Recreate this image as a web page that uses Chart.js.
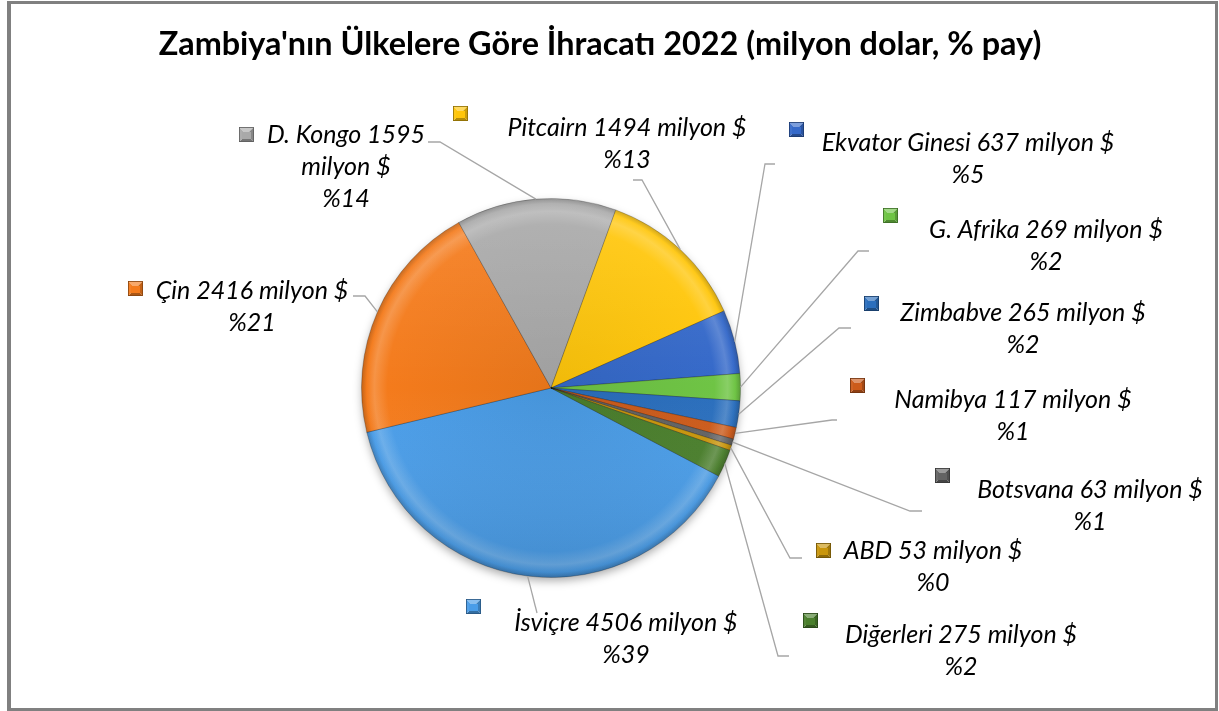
<!DOCTYPE html>
<html>
<head>
<meta charset="utf-8">
<script src="https://cdn.jsdelivr.net/npm/chart.js@4.4.0/dist/chart.umd.min.js"></script>
<style>
html,body{margin:0;padding:0;background:#fff;}
#wrap{position:relative;width:1219px;height:711px;overflow:hidden;}
canvas{position:absolute;left:0;top:0;}
#frame{position:absolute;left:7px;top:1px;width:1204px;height:704px;border:3px solid #808080;border-left-width:4px;pointer-events:none;}
</style>
</head>
<body>
<div id="wrap"><canvas id="c" width="1219" height="711"></canvas><div id="frame"></div></div>
<script>
// ---------- data ----------
const chartTitle = "Zambiya'nın Ülkelere Göre İhracatı 2022 (milyon dolar, % pay)";
const categories = ["İsviçre","Çin","D. Kongo","Pitcairn","Ekvator Ginesi","G. Afrika","Zimbabve","Namibya","Botsvana","ABD","Diğerleri"];
const exportValues = [4506,2416,1595,1494,637,269,265,117,63,53,275];
const unitText = "milyon $";

// ---------- styles ----------
const sliceColors = ["#4a9de8","#f47b1c","#a9a9a9","#ffc60a","#3569c9","#6fc445","#2b6fbd","#cc5b1b","#636363","#c9960c","#4a7f2c"];

// label layout (annotation positions, not data)
const labelLayout = [
  {cx:626, y:623, marker:[466,599], start:[537,613], elbow:[537,613]},
  {cx:252, y:291, marker:[128,281], start:[353,296], elbow:[365,296]},
  {cx:346, y:135, marker:[239,127], start:[428,142], elbow:[440,142], wrap:true},
  {cx:627, y:128, marker:[453,106], start:[633,180], elbow:[642,180]},
  {cx:968, y:143, marker:[789,122], start:[775,164], elbow:[765,164]},
  {cx:1046,y:230, marker:[883,208], start:[869,251], elbow:[858,251]},
  {cx:1023,y:313, marker:[864,296], start:[851,328], elbow:[839,328]},
  {cx:1013,y:400, marker:[850,378], start:[837,420], elbow:[832,420]},
  {cx:1090,y:490, marker:[935,468], start:[922,511], elbow:[910,511]},
  {cx:933, y:551, marker:[816,543], start:[802,558], elbow:[790,558]},
  {cx:961, y:635, marker:[803,613], start:[789,656], elbow:[778,656]}
];
const LINE_H = 32;

function hexToRgb(h){h=h.replace('#','');return [parseInt(h.substr(0,2),16),parseInt(h.substr(2,2),16),parseInt(h.substr(4,2),16)];}
function shade(hex,amt){
  const c=hexToRgb(hex);
  const t = amt>0?255:0, a=Math.abs(amt);
  return 'rgb('+c.map(v=>Math.round(v+(t-v)*a)).join(',')+')';
}

const total = exportValues.reduce((a,b)=>a+b,0);

const canvas = document.getElementById('c');
const mctx = canvas.getContext('2d');
function fitFont(style, text, target){
  mctx.font = style.replace('SIZE','100px');
  const w = mctx.measureText(text).width;
  return 100*target/w;
}
const labelFontSize = fitFont("italic 400 SIZE Lato", "Pitcairn 1494 milyon $", 239);
const titleFontSize = fitFont("bold SIZE Lato", chartTitle, 883);

const pieDeco = {
  id:'pieDeco',
  beforeDatasetsDraw(chart){
    const arc = chart.getDatasetMeta(0).data[0];
    if(!arc) return;
    const ctx = chart.ctx;
    ctx.save();
    ctx.shadowColor='rgba(0,0,0,0.35)';
    ctx.shadowBlur=10;
    ctx.shadowOffsetY=4;
    ctx.beginPath();
    ctx.arc(arc.x,arc.y,arc.outerRadius-1,0,Math.PI*2);
    ctx.fillStyle='#888';
    ctx.fill();
    ctx.restore();
  },
  afterDatasetsDraw(chart){
    const meta = chart.getDatasetMeta(0);
    const arc0 = meta.data[0];
    const ctx = chart.ctx;
    const cx = arc0.x, cy = arc0.y, R = arc0.outerRadius;
    // overall light from top
    ctx.save();
    const lg = ctx.createLinearGradient(0,cy-R,0,cy+R);
    lg.addColorStop(0,'rgba(255,255,255,0.10)');
    lg.addColorStop(0.5,'rgba(255,255,255,0)');
    lg.addColorStop(1,'rgba(0,0,0,0.12)');
    ctx.beginPath();ctx.arc(cx,cy,R,0,Math.PI*2);ctx.fillStyle=lg;ctx.fill();
    ctx.restore();

    // leader lines
    ctx.save();
    ctx.strokeStyle='#a6a6a6';
    ctx.lineWidth=1.3;
    meta.data.forEach((arc,i)=>{
      const L = labelLayout[i];
      const mid = (arc.startAngle+arc.endAngle)/2;
      const ex = arc.x + Math.cos(mid)*arc.outerRadius;
      const ey = arc.y + Math.sin(mid)*arc.outerRadius;
      ctx.beginPath();
      ctx.moveTo(L.start[0],L.start[1]);
      ctx.lineTo(L.elbow[0],L.elbow[1]);
      ctx.lineTo(ex,ey);
      ctx.stroke();
    });
    ctx.restore();

    // markers + labels
    ctx.save();
    meta.data.forEach((arc,i)=>{
      const L = labelLayout[i];
      const col = sliceColors[i];
      const [mx,my] = L.marker, s=15, c=[mx+s/2,my+s/2];
      const tri=(pts,fill)=>{ctx.beginPath();ctx.moveTo(pts[0][0],pts[0][1]);pts.slice(1).forEach(p=>ctx.lineTo(p[0],p[1]));ctx.closePath();ctx.fillStyle=fill;ctx.fill();};
      tri([[mx,my],[mx+s,my],c], shade(col,0.35));
      tri([[mx+s,my],[mx+s,my+s],c], shade(col,-0.2));
      tri([[mx,my+s],[mx+s,my+s],c], shade(col,-0.3));
      tri([[mx,my],[mx,my+s],c], shade(col,0.05));
      ctx.fillStyle=col;
      ctx.fillRect(mx+3,my+5,s-6,s-8);
      ctx.strokeStyle=shade(col,-0.45);ctx.lineWidth=0.8;
      ctx.strokeRect(mx+0.4,my+0.4,s-0.8,s-0.8);

      const v = exportValues[i];
      const pct = '%'+Math.round(v/total*100);
      const lines = L.wrap ? [categories[i]+' '+v, unitText, pct] : [categories[i]+' '+v+' '+unitText, pct];
      ctx.fillStyle='#000';
      ctx.font = 'italic 400 '+labelFontSize.toFixed(2)+'px Lato';
      ctx.textAlign='center';
      ctx.textBaseline='middle';
      lines.forEach((t,k)=>ctx.fillText(t, L.cx, L.y + k*LINE_H));
    });
    // title
    ctx.fillStyle='#000';
    ctx.font='bold '+titleFontSize.toFixed(2)+'px Lato';
    ctx.textAlign='center';
    ctx.textBaseline='middle';
    ctx.fillText(chartTitle, 600, 45);
    ctx.restore();
  }
};

new Chart(canvas, {
  type:'pie',
  data:{
    labels:categories,
    datasets:[{
      data:exportValues,
      backgroundColor:(c)=>{
        const chart=c.chart, a=chart.chartArea, base=sliceColors[c.dataIndex];
        if(!a) return base;
        const x=(a.left+a.right)/2, y=(a.top+a.bottom)/2, r=Math.min(a.right-a.left,a.bottom-a.top)/2;
        const g=chart.ctx.createRadialGradient(x,y,0,x,y,r);
        g.addColorStop(0,shade(base,-0.06));
        g.addColorStop(0.86,base);
        g.addColorStop(0.93,shade(base,0.18));
        g.addColorStop(0.97,base);
        g.addColorStop(1,shade(base,-0.22));
        return g;
      },
      borderColor:'rgba(0,0,0,0.22)',
      borderWidth:1
    }]
  },
  options:{
    responsive:false,
    devicePixelRatio:1,
    animation:false,
    rotation:117.7,
    layout:{padding:{top:198,bottom:133,left:361,right:478}},
    plugins:{legend:{display:false},tooltip:{enabled:false},title:{display:false}}
  },
  plugins:[pieDeco]
});
</script>
</body>
</html>
